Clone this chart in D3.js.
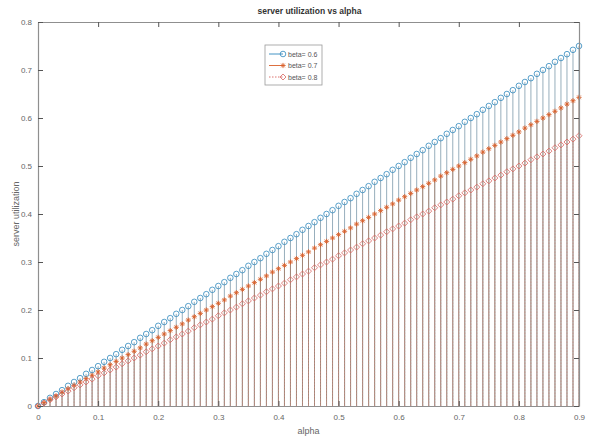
<!DOCTYPE html>
<html>
<head>
<meta charset="utf-8">
<script src="https://cdn.jsdelivr.net/npm/d3@7.9.0/dist/d3.min.js"></script>
<style>
  body { margin: 0; background: #fff; }
  text { font-family: "Liberation Sans", Arial, sans-serif; }
</style>
</head>
<body>
<svg id="chart" width="593" height="439"></svg>
<script>
// alpha values (x)
const alpha = [0, .01, .02, .03, .04, .05, .06, .07, .08, .09,
  .10, .11, .12, .13, .14, .15, .16, .17, .18, .19,
  .20, .21, .22, .23, .24, .25, .26, .27, .28, .29,
  .30, .31, .32, .33, .34, .35, .36, .37, .38, .39,
  .40, .41, .42, .43, .44, .45, .46, .47, .48, .49,
  .50, .51, .52, .53, .54, .55, .56, .57, .58, .59,
  .60, .61, .62, .63, .64, .65, .66, .67, .68, .69,
  .70, .71, .72, .73, .74, .75, .76, .77, .78, .79,
  .80, .81, .82, .83, .84, .85, .86, .87, .88, .89, .90];

// server utilization, beta = 0.6
const beta06 = [0, .008, .017, .025, .033, .042, .050, .058, .067, .075,
  .083, .092, .100, .108, .117, .125, .133, .142, .150, .158,
  .167, .175, .183, .192, .200, .208, .217, .225, .233, .242,
  .250, .258, .267, .275, .283, .292, .300, .308, .317, .325,
  .333, .342, .350, .358, .367, .375, .383, .392, .400, .408,
  .417, .425, .433, .442, .450, .458, .467, .475, .483, .492,
  .500, .508, .517, .525, .533, .542, .550, .558, .567, .575,
  .583, .592, .600, .608, .617, .625, .633, .642, .650, .658,
  .667, .675, .683, .692, .700, .708, .717, .725, .733, .742, .750];

// server utilization, beta = 0.7
const beta07 = [0, .007, .014, .021, .029, .036, .043, .050, .057, .064,
  .071, .079, .086, .093, .100, .107, .114, .121, .129, .136,
  .143, .150, .157, .164, .171, .179, .186, .193, .200, .207,
  .214, .221, .229, .236, .243, .250, .257, .264, .271, .279,
  .286, .293, .300, .307, .314, .321, .329, .336, .343, .350,
  .357, .364, .371, .379, .386, .393, .400, .407, .414, .421,
  .429, .436, .443, .450, .457, .464, .471, .479, .486, .493,
  .500, .507, .514, .521, .529, .536, .543, .550, .557, .564,
  .571, .579, .586, .593, .600, .607, .614, .621, .629, .636, .643];

// server utilization, beta = 0.8
const beta08 = [0, .006, .013, .019, .025, .031, .038, .044, .050, .056,
  .063, .069, .075, .081, .088, .094, .100, .106, .113, .119,
  .125, .131, .138, .144, .150, .156, .163, .169, .175, .181,
  .188, .194, .200, .206, .213, .219, .225, .231, .238, .244,
  .250, .256, .263, .269, .275, .281, .288, .294, .300, .306,
  .313, .319, .325, .331, .338, .344, .350, .356, .363, .369,
  .375, .381, .388, .394, .400, .406, .413, .419, .425, .431,
  .438, .444, .450, .456, .463, .469, .475, .481, .488, .494,
  .500, .506, .513, .519, .525, .531, .538, .544, .550, .556, .563];

const seriesNames = ['beta= 0.6', 'beta= 0.7', 'beta= 0.8'];
const xTicks = [0, 0.1, 0.2, 0.3, 0.4, 0.5, 0.6, 0.7, 0.8, 0.9];
const yTicks = [0, 0.1, 0.2, 0.3, 0.4, 0.5, 0.6, 0.7, 0.8];

const svg = d3.select('#chart');
const mLeft = 38, mRight = 579, mTop = 22, mBottom = 406;

const x = d3.scaleLinear().domain([0, 0.9]).range([mLeft, mRight]);
const y = d3.scaleLinear().domain([0, 0.8]).range([mBottom, mTop]);

const series = [
  { name: seriesNames[0], values: beta06, color: '#2f88bd', stem: '#5c7f96', dash: null, marker: 'circle' },
  { name: seriesNames[1], values: beta07, color: '#d9602a', stem: '#a8704f', dash: null, marker: 'star' },
  { name: seriesNames[2], values: beta08, color: '#d86560', stem: '#c98a86', dash: '1.5,1.5', marker: 'diamond' }
];

// marker drawing
function drawMarker(g, type, color) {
  if (type === 'circle') {
    g.append('circle').attr('r', 2.8).attr('fill', 'none')
      .attr('stroke', color).attr('stroke-width', 0.8);
  } else if (type === 'star') {
    const s = 2.6;
    g.append('path')
      .attr('d', `M${-s},0H${s}M0,${-s}V${s}M${-s*0.7},${-s*0.7}L${s*0.7},${s*0.7}M${-s*0.7},${s*0.7}L${s*0.7},${-s*0.7}`)
      .attr('stroke', color).attr('stroke-width', 0.9).attr('fill', 'none');
  } else {
    const s = 3;
    g.append('path').attr('d', `M0,${-s}L${s},0L0,${s}L${-s},0Z`)
      .attr('fill', 'none').attr('stroke', color).attr('stroke-width', 0.8);
  }
}

// stems
series.forEach(s => {
  svg.append('g')
    .selectAll('line')
    .data(alpha)
    .join('line')
    .attr('x1', d => x(d)).attr('x2', d => x(d))
    .attr('y1', y(0))
    .attr('y2', (d, i) => y(s.values[i]))
    .attr('stroke', s.stem)
    .attr('stroke-width', 0.8)
    .attr('stroke-opacity', 0.8)
    .attr('stroke-dasharray', s.dash);
});

// markers
series.forEach(s => {
  svg.append('g')
    .selectAll('g')
    .data(alpha)
    .join('g')
    .attr('transform', (d, i) => `translate(${x(d)},${y(s.values[i])})`)
    .each(function () { drawMarker(d3.select(this), s.marker, s.color); });
});

// axes (box with inward ticks on all sides)
const axisColor = '#8f8f8f';
const tickLen = 5;
const xb = d3.axisBottom(x).tickValues(xTicks).tickSizeInner(-tickLen).tickSizeOuter(0)
  .tickPadding(8).tickFormat(d3.format('~g'));
const xt = d3.axisTop(x).tickValues(xTicks).tickSizeInner(-tickLen).tickSizeOuter(0).tickFormat('');
const yl = d3.axisLeft(y).tickValues(yTicks).tickSizeInner(-tickLen).tickSizeOuter(0)
  .tickPadding(6).tickFormat(d3.format('~g'));
const yr = d3.axisRight(y).tickValues(yTicks).tickSizeInner(-tickLen).tickSizeOuter(0).tickFormat('');

const axes = [
  svg.append('g').attr('transform', `translate(0,${mBottom})`).call(xb),
  svg.append('g').attr('transform', `translate(0,${mTop})`).call(xt),
  svg.append('g').attr('transform', `translate(${mLeft},0)`).call(yl),
  svg.append('g').attr('transform', `translate(${mRight},0)`).call(yr)
];
axes.forEach(a => {
  a.select('.domain').attr('stroke', axisColor).attr('stroke-width', 1.2);
  a.selectAll('.tick line').attr('stroke', '#555').attr('stroke-width', 1);
  a.selectAll('.tick text').attr('fill', '#666').attr('font-size', 8);
});

// title and axis labels
svg.append('text').attr('x', (mLeft + mRight) / 2 + 1).attr('y', 14)
  .attr('text-anchor', 'middle').attr('font-size', 8.5).attr('font-weight', 'bold')
  .attr('fill', '#333').text('server utilization vs alpha');
svg.append('text').attr('x', (mLeft + mRight) / 2).attr('y', 434)
  .attr('text-anchor', 'middle').attr('font-size', 9).attr('fill', '#666').text('alpha');
svg.append('text').attr('transform', `translate(19,${(mTop + mBottom) / 2}) rotate(-90)`)
  .attr('text-anchor', 'middle').attr('font-size', 9).attr('fill', '#666').text('server utilization');

// legend
const legend = svg.append('g').attr('transform', 'translate(265,45)');
legend.append('rect').attr('width', 57).attr('height', 40)
  .attr('fill', '#fff').attr('stroke', '#999').attr('stroke-width', 0.8);
series.forEach((s, i) => {
  const row = legend.append('g').attr('transform', `translate(0,${9 + i * 11.5})`);
  row.append('line').attr('x1', 4).attr('x2', 18).attr('y1', 0).attr('y2', 0)
    .attr('stroke', s.color).attr('stroke-width', 0.9).attr('stroke-dasharray', s.dash);
  drawMarker(row.append('g').attr('transform', 'translate(18,0)'), s.marker, s.color);
  row.append('text').attr('x', 23).attr('y', 2.5).attr('font-size', 7)
    .attr('fill', '#555').text(s.name);
});
</script>
</body>
</html>
